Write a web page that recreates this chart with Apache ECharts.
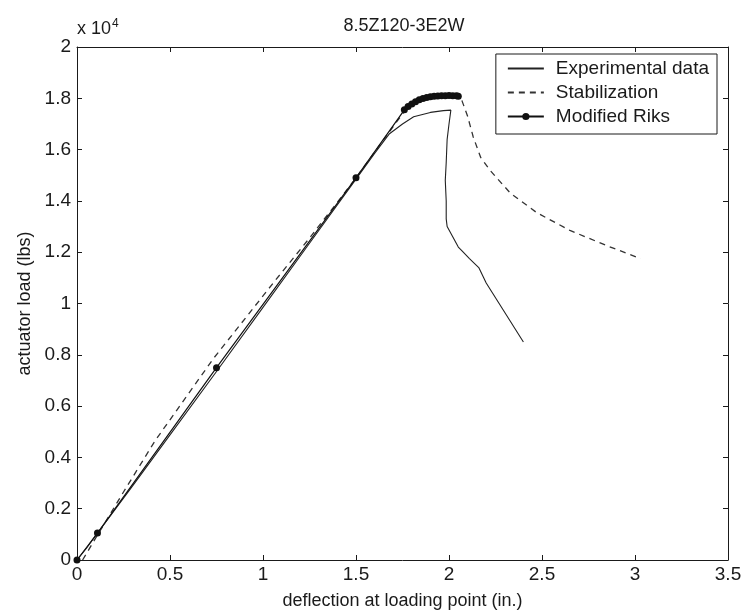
<!DOCTYPE html>
<html>
<head>
<meta charset="utf-8">
<script src="https://cdn.jsdelivr.net/npm/echarts@6/dist/echarts.min.js"></script>
<style>
html,body{margin:0;padding:0;background:#fff;}
#chart{width:744px;height:610px;}
</style>
</head>
<body>
<div id="chart"></div>
<script>
// Values in inches (x) and units of 10^4 lbs (y)
const titleText = '8.5Z120-3E2W';
const xTicks = [0, 0.5, 1, 1.5, 2, 2.5, 3, 3.5];
const yTicks = [0, 0.2, 0.4, 0.6, 0.8, 1, 1.2, 1.4, 1.6, 1.8, 2];

const experimental = [
  [0,0],[0.05,0.045],[0.1,0.095],[0.3,0.29],[0.5,0.488],[0.75,0.735],[1.0,0.985],
  [1.25,1.235],[1.5,1.485],[1.6,1.585],[1.68,1.662],[1.75,1.70],[1.81,1.728],
  [1.9,1.745],[1.97,1.752],[2.01,1.754],[2.0,1.70],[1.99,1.64],[1.985,1.55],
  [1.98,1.48],[1.985,1.40],[1.985,1.33],[1.99,1.30],[2.02,1.26],[2.05,1.22],
  [2.07,1.205],[2.11,1.175],[2.16,1.14],[2.2,1.08],[2.3,0.965],[2.4,0.85]
];

const stabilization = [
  [0.03,0],[0.1,0.085],[0.25,0.265],[0.42,0.465],[0.733,0.785],[1.066,1.09],
  [1.25,1.255],[1.4,1.395],[1.5,1.49],[1.6,1.59],[1.7,1.69],[1.77,1.758],
  [1.85,1.793],[1.95,1.808],[2.04,1.81],[2.07,1.79],[2.1,1.73],[2.13,1.65],
  [2.17,1.57],[2.22,1.52],[2.33,1.43],[2.47,1.355],[2.65,1.285],[2.85,1.225],[3.03,1.175]
];

const riks = [
  [0,0],[0.11,0.105],[0.75,0.75],[1.5,1.49],[1.76,1.755],[1.78,1.768],[1.80,1.778],
  [1.82,1.787],[1.84,1.794],[1.86,1.799],[1.88,1.803],[1.90,1.806],[1.92,1.808],
  [1.94,1.809],[1.96,1.81],[1.98,1.81],[2.00,1.811],[2.02,1.81],[2.04,1.81],[2.05,1.808]
];

const seriesNames = ['Experimental data', 'Stabilization', 'Modified Riks'];
const xLabel = 'deflection at loading point (in.)';
const yLabel = 'actuator load (lbs)';

const chart = echarts.init(document.getElementById('chart'), null, {renderer: 'canvas'});
const font = 'Liberation Sans, Arial, sans-serif';
const ink = '#1a1a1a';

const axisCommon = {
  axisLine: {show: true, onZero: false, lineStyle: {color: ink, width: 1}},
  axisTick: {show: true, inside: true, length: 5, lineStyle: {color: ink}},
  splitLine: {show: false}
};

const hiddenIcon = {color: 'transparent', borderWidth: 0, opacity: 0};

chart.setOption({
  backgroundColor: '#fff',
  animation: false,
  title: {
    text: titleText, left: 399, top: 12, textAlign: 'center',
    textStyle: {fontFamily: font, fontSize: 18, fontWeight: 'normal', color: ink}
  },
  graphic: [{
    type: 'text', left: 77, top: 18,
    style: {
      text: 'x 10{sup|4}',
      font: '18px ' + font, fill: ink,
      rich: {sup: {fontSize: 12, fontFamily: font, fill: ink, verticalAlign: 'top', padding: [0,0,10,1]}}
    }
  }],
  legend: {
    orient: 'vertical', right: 27, top: 54,
    backgroundColor: '#fff', borderColor: ink, borderWidth: 1, borderRadius: 0,
    padding: [5, 8, 8, 11], itemGap: 5, itemWidth: 36, itemHeight: 9,
    textStyle: {fontFamily: font, fontSize: 19, color: ink, padding: [0, 0, 0, 7]},
    data: [
      {name: seriesNames[0], itemStyle: hiddenIcon},
      {name: seriesNames[1], itemStyle: hiddenIcon},
      {name: seriesNames[2]}
    ]
  },
  grid: {left: 77, right: 16, top: 47, bottom: 50, containLabel: false, outerBoundsMode: 'none'},
  xAxis: [
    Object.assign({
      type: 'value', min: 0, max: 3.5, interval: 0.5, position: 'bottom',
      name: xLabel, nameLocation: 'middle', nameGap: 32,
      nameTextStyle: {fontFamily: font, fontSize: 18, color: ink},
      axisLabel: {fontFamily: font, fontSize: 19, color: ink, margin: 5}
    }, axisCommon),
    Object.assign({
      type: 'value', min: 0, max: 3.5, interval: 0.5, position: 'top',
      axisLabel: {show: false}
    }, axisCommon)
  ],
  yAxis: [
    Object.assign({
      type: 'value', min: 0, max: 2, interval: 0.2, position: 'left',
      name: yLabel, nameLocation: 'middle', nameGap: 43, nameRotate: 90,
      nameTextStyle: {fontFamily: font, fontSize: 18, color: ink},
      axisLabel: {fontFamily: font, fontSize: 19, color: ink, margin: 6}
    }, axisCommon),
    Object.assign({
      type: 'value', min: 0, max: 2, interval: 0.2, position: 'right',
      axisLabel: {show: false}
    }, axisCommon)
  ],
  series: [
    {
      name: seriesNames[0], type: 'line', data: experimental, showSymbol: false, symbol: 'none',
      lineStyle: {color: '#222', width: 1.1}, itemStyle: {color: '#222'}
    },
    {
      name: seriesNames[1], type: 'line', data: stabilization, showSymbol: false, symbol: 'none',
      lineStyle: {color: '#333', width: 1.3, type: [6, 5]}, itemStyle: {color: '#333'}
    },
    {
      name: seriesNames[2], type: 'line', data: riks, showSymbol: true, symbol: 'circle', symbolSize: 7,
      lineStyle: {color: '#111', width: 1.2}, itemStyle: {color: '#111'}
    }
  ]
});
</script>
</body>
</html>
